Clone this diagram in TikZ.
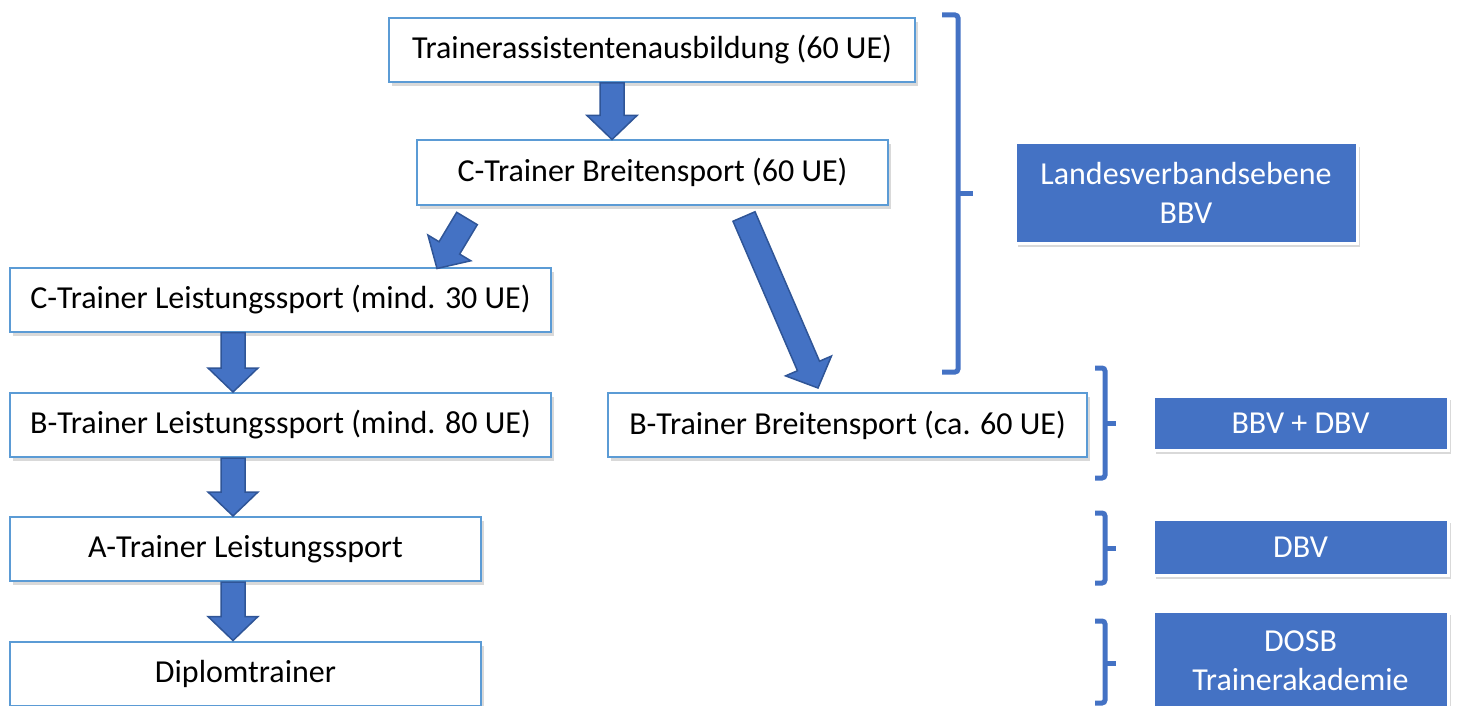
\documentclass[tikz,border=0pt]{standalone}
\usepackage{fontspec}
\setmainfont{Carlito}
\usetikzlibrary{calc, shadows}

\definecolor{boxline}{HTML}{5B9BD5}
\definecolor{accent}{HTML}{4472C4}
\definecolor{accentdark}{HTML}{2F5597}

% block arrow from #1 to tip #2
\newcommand{\blockarrow}[2]{%
  \path #1 coordinate (ba-s) #2 coordinate (ba-t);
  \path ($(ba-t)!24pt!(ba-s)$) coordinate (ba-h);
  \draw[barrow] ($(ba-s)!12pt!90:(ba-t)$) -- ($(ba-h)!12pt!90:(ba-t)$)
    -- ($(ba-h)!25pt!90:(ba-t)$) -- (ba-t) -- ($(ba-h)!25pt!-90:(ba-t)$)
    -- ($(ba-h)!12pt!-90:(ba-t)$) -- ($(ba-s)!12pt!-90:(ba-t)$) -- cycle;
}

\begin{document}
\begin{tikzpicture}[x=1pt, y=-1pt, font=\fontsize{32}{39}\selectfont, align=center,
  box/.style={draw=boxline, line width=2pt, fill=white, minimum height=64pt,
    drop shadow={shadow xshift=3pt, shadow yshift=-4pt, opacity=0.3}},
  level/.style={draw=white, line width=3pt, fill=accent, text=white,
    minimum width=295pt,
    drop shadow={shadow xshift=3pt, shadow yshift=-4pt, opacity=0.3}},
  barrow/.style={fill=accent, draw=accentdark, line width=1.5pt, line join=miter},
  brace/.style={draw=accent, line width=5pt, rounded corners=3pt}]
  \useasboundingbox (0,0) rectangle (1457,706);

  \node[box, minimum width=526pt] (tra) at (652,50) {Trainerassistentenausbildung (60 UE)};
  \node[box, minimum width=471pt] (cbs) at (652.5,172.5) {C-Trainer Breitensport (60 UE)};
  \node[box, minimum width=541pt] (cls) at (280.5,299.5) {C-Trainer Leistungssport (mind. 30 UE)};
  \node[box, minimum width=541pt] (bls) at (280.5,425) {B-Trainer Leistungssport (mind. 80 UE)};
  \node[box, minimum width=471pt] (als) at (245.5,549) {A-Trainer Leistungssport};
  \node[box, minimum width=471pt] (dipl) at (245.5,673.5) {Diplomtrainer};
  \node[box, minimum width=479pt] (bbs) at (847.5,425) {B-Trainer Breitensport (ca. 60 UE)};

  \node[level, minimum width=342pt, minimum height=100pt] (lvl) at (1186,193) {Landesverbandsebene\\BBV};
  \node[level, minimum height=54pt] (bbvdbv) at (1300.5,423) {BBV + DBV};
  \node[level, minimum height=56pt] (dbv) at (1300.5,547) {DBV};
  \node[level, minimum height=100pt] (dosb) at (1300.5,661) {DOSB\\Trainerakademie};

  \blockarrow{([xshift=-40pt]tra.south)}{([xshift=-40.5pt]cbs.north)}
  \blockarrow{([xshift=-185.5pt, yshift=-13pt]cbs.south)}{([xshift=156.5pt, yshift=-2pt]cls.north)}
  \blockarrow{([xshift=91.5pt, yshift=-11pt]cbs.south)}{([xshift=-29.5pt, yshift=4pt]bbs.north)}
  \blockarrow{([xshift=-47.5pt]cls.south)}{([xshift=-47.5pt]bls.north)}
  \blockarrow{([xshift=-47.5pt]bls.south)}{([xshift=-12.5pt]als.north)}
  \blockarrow{([xshift=-12.5pt]als.south)}{([xshift=-12.5pt]dipl.north)}

  % braces
  \draw[brace] (942,15) -- (958,15) -- (958,372) -- (942,372);
  \draw[brace, rounded corners=0pt] (958,193) -- (973,193);
  \draw[brace] (1095,368) -- (1105,368) -- (1105,478) -- (1095,478);
  \draw[brace, rounded corners=0pt] (1105,423) -- (1116,423);
  \draw[brace] (1095,513) -- (1105,513) -- (1105,583) -- (1095,583);
  \draw[brace, rounded corners=0pt] (1105,548) -- (1116,548);
  \draw[brace] (1095,621) -- (1105,621) -- (1105,703) -- (1095,703);
  \draw[brace, rounded corners=0pt] (1105,663) -- (1116,663);
\end{tikzpicture}
\end{document}
